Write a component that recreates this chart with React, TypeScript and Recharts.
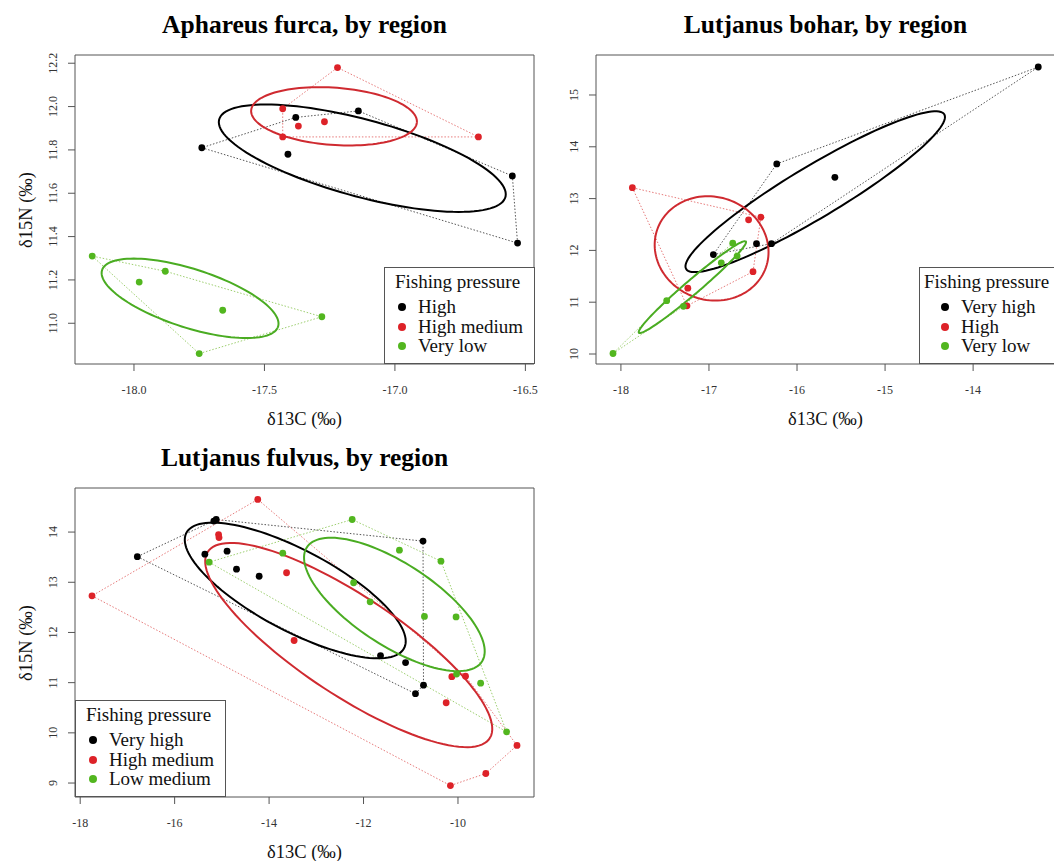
import React from "react";
import { ComposedChart, Scatter, XAxis, YAxis, ReferenceArea } from "recharts";

const FONT = "'Liberation Serif', 'Times New Roman', Times, serif";

// Aphareus furca  [d13C, d15N]
const afHigh = [[-17.74, 11.81], [-17.38, 11.95], [-17.41, 11.78], [-17.14, 11.98], [-16.55, 11.68], [-16.53, 11.37]];
const afHighMedium = [[-17.22, 12.18], [-17.43, 11.99], [-17.37, 11.91], [-17.27, 11.93], [-17.43, 11.86], [-16.68, 11.86]];
const afVeryLow = [[-18.16, 11.31], [-17.88, 11.24], [-17.98, 11.19], [-17.66, 11.06], [-17.28, 11.03], [-17.75, 10.86]];

// Lutjanus bohar
const lbVeryHigh = [[-13.26, 15.54], [-16.23, 13.67], [-15.57, 13.41], [-16.95, 11.92], [-16.46, 12.13], [-16.29, 12.13]];
const lbHigh = [[-17.87, 13.21], [-16.55, 12.59], [-16.41, 12.64], [-16.5, 11.59], [-17.24, 11.27], [-17.25, 10.93]];
const lbVeryLow = [[-18.09, 10.01], [-17.48, 11.03], [-17.29, 10.92], [-16.86, 11.76], [-16.73, 12.14], [-16.68, 11.89]];

// Lutjanus fulvus
const lfVeryHigh = [
  [-16.79, 13.51], [-15.17, 14.22], [-15.12, 14.25], [-15.36, 13.56], [-14.89, 13.62], [-14.69, 13.26],
  [-14.21, 13.12], [-10.74, 13.82], [-11.64, 11.54], [-11.11, 11.4], [-10.73, 10.95], [-10.9, 10.78],
];
const lfHighMedium = [
  [-14.24, 14.65], [-15.07, 13.95], [-15.06, 13.89], [-17.75, 12.73], [-13.63, 13.19], [-13.47, 11.84],
  [-10.13, 11.12], [-9.84, 11.13], [-10.25, 10.6], [-8.75, 9.75], [-9.41, 9.19], [-10.16, 8.95],
];
const lfLowMedium = [
  [-15.27, 13.4], [-13.71, 13.58], [-12.24, 14.25], [-11.24, 13.64], [-10.36, 13.42], [-12.21, 12.99],
  [-11.86, 12.61], [-10.71, 12.32], [-10.04, 12.31], [-10.03, 11.17], [-9.52, 10.99], [-8.97, 10.02],
];

const afXTicks = [-18, -17.5, -17, -16.5];
const afYTicks = [11, 11.2, 11.4, 11.6, 11.8, 12, 12.2];
const lbXTicks = [-18, -17, -16, -15, -14];
const lbYTicks = [10, 11, 12, 13, 14, 15];
const lfXTicks = [-18, -16, -14, -12, -10];
const lfYTicks = [9, 10, 11, 12, 13, 14];

const BLACK = "#000000";
const RED = "#dd2228";
const GREEN = "#52b61f";

type Pt = { x: number; y: number };
const toPts = (a: number[][]): Pt[] => a.map(([x, y]) => ({ x, y }));

// convex hull (monotone chain), closed
function hull(a: number[][]): Pt[] {
  const p = toPts(a).sort((u, v) => u.x - v.x || u.y - v.y);
  const cross = (o: Pt, a: Pt, b: Pt) => (a.x - o.x) * (b.y - o.y) - (a.y - o.y) * (b.x - o.x);
  const lo: Pt[] = [];
  for (const q of p) {
    while (lo.length >= 2 && cross(lo[lo.length - 2], lo[lo.length - 1], q) <= 0) lo.pop();
    lo.push(q);
  }
  const up: Pt[] = [];
  for (let i = p.length - 1; i >= 0; i--) {
    const q = p[i];
    while (up.length >= 2 && cross(up[up.length - 2], up[up.length - 1], q) <= 0) up.pop();
    up.push(q);
  }
  const h = lo.slice(0, -1).concat(up.slice(0, -1));
  return [...h, h[0]];
}

// small-sample corrected standard ellipse (SEAc) from the points
function ellipse(a: number[][], steps = 120): Pt[] {
  const n = a.length;
  const mx = a.reduce((s, p) => s + p[0], 0) / n;
  const my = a.reduce((s, p) => s + p[1], 0) / n;
  let sxx = 0, syy = 0, sxy = 0;
  a.forEach(([x, y]) => {
    sxx += (x - mx) ** 2;
    syy += (y - my) ** 2;
    sxy += (x - mx) * (y - my);
  });
  sxx /= n - 2; syy /= n - 2; sxy /= n - 2;
  const m = (sxx + syy) / 2;
  const d = Math.sqrt(((sxx - syy) / 2) ** 2 + sxy ** 2);
  const l1 = Math.sqrt(m + d), l2 = Math.sqrt(Math.max(m - d, 0));
  const th = 0.5 * Math.atan2(2 * sxy, sxx - syy);
  const out: Pt[] = [];
  for (let i = 0; i <= steps; i++) {
    const t = (i / steps) * 2 * Math.PI;
    out.push({
      x: mx + l1 * Math.cos(t) * Math.cos(th) - l2 * Math.sin(t) * Math.sin(th),
      y: my + l1 * Math.cos(t) * Math.sin(th) + l2 * Math.sin(t) * Math.cos(th),
    });
  }
  return out;
}

const noShape = () => <g />;

const RotTick = (props: any) => {
  const { x, y, payload, fmt } = props;
  return (
    <text x={x} y={y} transform={`rotate(-90 ${x} ${y})`} textAnchor="middle"
      fontSize={12} fill="#333" fontFamily={FONT}>
      {fmt(payload.value)}
    </text>
  );
};

interface Group { label: string; color: string; ell: string; hullColor: string; pts: number[][]; }

interface PanelProps {
  left: number; top: number; title: string; groups: Group[];
  xDomain: [number, number]; yDomain: [number, number];
  xTicks: number[]; yTicks: number[];
  xFmt: (v: number) => string; yFmt: (v: number) => string;
  yLabel: boolean;
  legend: { left: number; width: number; titleX: number; markerX: number; textX: number };
}

function Panel(p: PanelProps) {
  return (
    <div style={{ position: "absolute", left: p.left, top: p.top, width: 545, height: 440, fontFamily: FONT }}>
      <ComposedChart width={545} height={440} margin={{ top: 55, right: 11, bottom: 46, left: 35 }}>
        <XAxis type="number" dataKey="x" domain={p.xDomain} ticks={p.xTicks} tickFormatter={p.xFmt}
          allowDataOverflow interval={0} axisLine={false} tickSize={7} tickMargin={14} height={30}
          tickLine={{ stroke: "#555" }} tick={{ fontSize: 12, fill: "#333", fontFamily: FONT }} />
        <YAxis type="number" dataKey="y" domain={p.yDomain} ticks={p.yTicks} allowDataOverflow
          interval={0} axisLine={false} tickSize={7} tickMargin={11} width={40}
          tickLine={{ stroke: "#555" }} tick={(t: any) => <RotTick {...t} fmt={p.yFmt} />} />
        <ReferenceArea x1={p.xDomain[0]} x2={p.xDomain[1]} y1={p.yDomain[0]} y2={p.yDomain[1]}
          fill="none" stroke="#555" strokeWidth={1} ifOverflow="visible" />
        {p.groups.map((g) => (
          <Scatter key={"h" + g.label} data={hull(g.pts)} shape={noShape} isAnimationActive={false}
            line={{ stroke: g.hullColor, strokeWidth: 1, strokeDasharray: "1.5 1.8" }} />
        ))}
        {p.groups.map((g) => (
          <Scatter key={"e" + g.label} data={ellipse(g.pts)} shape={noShape} isAnimationActive={false}
            line={{ stroke: g.ell, strokeWidth: 2 }} />
        ))}
        {p.groups.map((g) => (
          <Scatter key={"p" + g.label} data={toPts(g.pts)} isAnimationActive={false}
            shape={(s: any) => <circle cx={s.cx} cy={s.cy} r={3.4} fill={g.color} />} />
        ))}
      </ComposedChart>

      <div style={{ position: "absolute", left: 304.5, top: 25, transform: "translate(-50%,-50%)",
        fontFamily: FONT, fontSize: 25.5, fontWeight: 700, lineHeight: 1, whiteSpace: "nowrap", color: "#000" }}>
        {p.title}
      </div>
      <div style={{ position: "absolute", left: 304.5, top: 419, transform: "translate(-50%,-50%)",
        fontFamily: FONT, fontSize: 18.5, lineHeight: 1, whiteSpace: "nowrap", color: "#111" }}>
        δ13C (‰)
      </div>
      {p.yLabel && (
        <div style={{ position: "absolute", left: 26, top: 209.5, transform: "translate(-50%,-50%) rotate(-90deg)",
          fontFamily: FONT, fontSize: 18.5, lineHeight: 1, whiteSpace: "nowrap", color: "#111" }}>
          δ15N (‰)
        </div>
      )}

      {/* Legend */}
      <div style={{ position: "absolute", left: p.legend.left, top: 267, width: p.legend.width, height: 97,
        boxSizing: "border-box", border: "1px solid #555", background: "#fff", fontFamily: FONT,
        fontSize: 19, color: "#111" }}>
        <div style={{ position: "absolute", left: p.legend.titleX, top: 4, lineHeight: "20px", whiteSpace: "nowrap" }}>
          Fishing pressure
        </div>
        {p.groups.map((g, i) => (
          <React.Fragment key={g.label}>
            <span style={{ position: "absolute", left: p.legend.markerX - 4, top: 39 + i * 19.5 - 4, width: 8, height: 8,
              borderRadius: "50%", background: g.color }} />
            <div style={{ position: "absolute", left: p.legend.textX, top: 39 + i * 19.5 - 10, lineHeight: "20px",
              whiteSpace: "nowrap" }}>
              {g.label}
            </div>
          </React.Fragment>
        ))}
      </div>
    </div>
  );
}

const f1 = (v: number) => v.toFixed(1);
const f0 = (v: number) => String(v);

export default function App() {
  return (
    <div style={{ position: "absolute", left: 0, top: 0, width: 1054, height: 861, overflow: "hidden",
      background: "#fff", fontFamily: FONT }}>
      <Panel left={0} top={0} title="Aphareus furca, by region"
        xDomain={[-18.226, -16.467]} yDomain={[10.812, 12.238]} xTicks={afXTicks} yTicks={afYTicks}
        xFmt={f1} yFmt={f1} yLabel
        legend={{ left: 384, width: 151, titleX: 10, markerX: 17, textX: 33 }}
        groups={[
          { label: "High", color: BLACK, ell: BLACK, hullColor: "#555", pts: afHigh },
          { label: "High medium", color: RED, ell: "#cf2a30", hullColor: "#e77b7b", pts: afHighMedium },
          { label: "Very low", color: GREEN, ell: "#4aac22", hullColor: "#9dcf6f", pts: afVeryLow },
        ]} />
      <Panel left={521} top={0} title="Lutjanus bohar, by region"
        xDomain={[-18.283, -13.07]} yDomain={[9.807, 15.772]} xTicks={lbXTicks} yTicks={lbYTicks}
        xFmt={f0} yFmt={f0} yLabel={false}
        legend={{ left: 398, width: 150, titleX: 4, markerX: 25, textX: 41 }}
        groups={[
          { label: "Very high", color: BLACK, ell: BLACK, hullColor: "#555", pts: lbVeryHigh },
          { label: "High", color: RED, ell: "#cf2a30", hullColor: "#e77b7b", pts: lbHigh },
          { label: "Very low", color: GREEN, ell: "#4aac22", hullColor: "#9dcf6f", pts: lbVeryLow },
        ]} />
      <Panel left={0} top={433} title="Lutjanus fulvus, by region"
        xDomain={[-18.11, -8.39]} yDomain={[8.722, 14.878]} xTicks={lfXTicks} yTicks={lfYTicks}
        xFmt={f0} yFmt={f0} yLabel
        legend={{ left: 75, width: 151, titleX: 10, markerX: 17, textX: 33 }}
        groups={[
          { label: "Very high", color: BLACK, ell: BLACK, hullColor: "#555", pts: lfVeryHigh },
          { label: "High medium", color: RED, ell: "#cf2a30", hullColor: "#e77b7b", pts: lfHighMedium },
          { label: "Low medium", color: GREEN, ell: "#4aac22", hullColor: "#9dcf6f", pts: lfLowMedium },
        ]} />
    </div>
  );
}
